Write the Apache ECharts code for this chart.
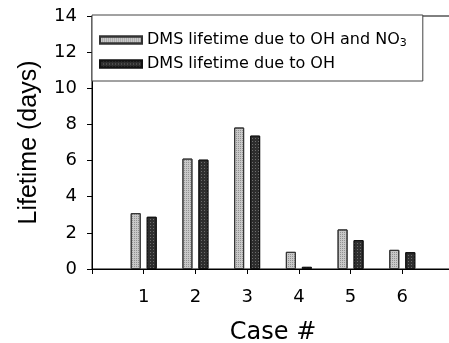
<!DOCTYPE html>
<html><head><meta charset="utf-8">
<script src="https://cdn.jsdelivr.net/npm/echarts@6/dist/echarts.min.js"></script>
<style>html,body{margin:0;padding:0;background:#fff}#c{width:449px;height:343px}</style>
</head><body><div id="c"></div>
<script>
var cases = [1, 2, 3, 4, 5, 6];
var ohNo3 = [3.09, 6.11, 7.83, 0.95, 2.19, 1.06];
var ohOnly = [2.89, 6.05, 7.38, 0.12, 1.60, 0.93];
var yTicks = [0, 2, 4, 6, 8, 10, 12, 14];
var seriesNames = ['DMS lifetime due to OH and NO3', 'DMS lifetime due to OH'];

var chart = echarts.init(document.getElementById('c'));
var font = 'DejaVu Sans, sans-serif';
var font2 = 'Liberation Sans, Arial, sans-serif';
function pairs(v){ return cases.map(function(c,i){ return [c, v[i]]; }); }
chart.setOption({
  animation: false,
  textStyle: {fontFamily: font},
  grid: {left: 92, top: 16, width: 362, height: 253, outerBoundsMode: 'none', containLabel: false,
         show: true, borderColor: '#000', borderWidth: 1, backgroundColor: 'transparent'},
  legend: {
    left: 92, top: 15, orient: 'vertical', icon: 'rect',
    padding: [14, 16, 8, 7], itemGap: 6,
    itemWidth: 42, itemHeight: 7,
    borderColor: '#444', borderWidth: 1, backgroundColor: '#fff',
    textStyle: {fontFamily: font, fontSize: 16, lineHeight: 18, color: '#000',
      rich: {sub: {fontSize: 11, lineHeight: 18, verticalAlign: 'bottom', padding: [9,0,0,0], fontFamily: font, color: '#000'}}},
    formatter: function(n){ return n === seriesNames[0] ? 'DMS lifetime due to OH and NO{sub|3}' : n; },
    data: seriesNames
  },
  xAxis: {
    type: 'value', min: 0, max: 7, interval: 1,
    name: 'Case #', nameLocation: 'middle', nameGap: 52,
    nameTextStyle: {fontSize: 24, color: '#000', fontFamily: font},
    axisLine: {lineStyle: {color: '#000'}},
    axisTick: {show: true, length: 5, lineStyle: {color: '#000'}},
    axisLabel: {fontSize: 18, color: '#000', margin: 19, fontFamily: font,
      formatter: function(v){ return cases.indexOf(v) >= 0 ? String(v) : ''; }},
    splitLine: {show: false}
  },
  yAxis: {
    type: 'value', min: 0, max: 14, interval: 2,
    name: 'Lifetime (days)', nameLocation: 'middle', nameGap: 50,
    nameTextStyle: {fontSize: 25, color: '#000', fontFamily: font2},
    axisLine: {show: true, lineStyle: {color: '#000'}},
    axisTick: {show: true, length: 5, lineStyle: {color: '#000'}},
    axisLabel: {fontSize: 18, color: '#000', margin: 15, fontFamily: font,
      formatter: function(v){ return yTicks.indexOf(v) >= 0 ? String(v) : ''; }},
    splitLine: {show: false}
  },
  series: [
    {name: seriesNames[0], type: 'bar', barWidth: 10, barGap: '60%', data: pairs(ohNo3),
     itemStyle: {color: '#c8c8c8', borderColor: '#333', borderWidth: 1,
       decal: {symbol: 'rect', symbolSize: 1, color: 'rgba(90,90,90,0.5)', dashArrayX: [1, 1], dashArrayY: [1, 1], rotation: 0}}},
    {name: seriesNames[1], type: 'bar', barWidth: 10, barGap: '60%', data: pairs(ohOnly),
     itemStyle: {color: '#2e2e2e', borderColor: '#111', borderWidth: 1,
       decal: {symbol: 'rect', symbolSize: 1, color: 'rgba(150,150,150,0.6)', dashArrayX: [1, 2], dashArrayY: [1, 2], rotation: 0}}}
  ]
});
</script></body></html>
